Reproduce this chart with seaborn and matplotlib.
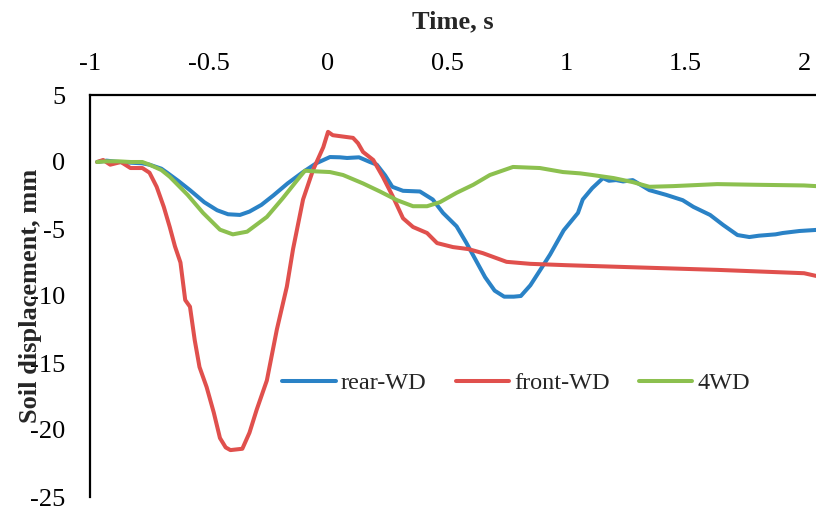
import matplotlib
matplotlib.use("Agg")
import matplotlib.pyplot as plt
import seaborn as sns
import pandas as pd

# Soil displacement traces under the passing wheels (time in s, displacement in mm)
rear_t = [-0.97, -0.93, -0.88, -0.83, -0.78, -0.75, -0.70, -0.676, -0.63, -0.58,
          -0.52, -0.466, -0.42, -0.37, -0.33, -0.28, -0.23, -0.17, -0.105, -0.05,
          0.008, 0.05, 0.08, 0.13, 0.176, 0.205, 0.24, 0.27, 0.315, 0.386,
          0.44, 0.483, 0.54, 0.58, 0.62, 0.66, 0.70, 0.74, 0.78, 0.81,
          0.85, 0.89, 0.933, 0.99, 1.05, 1.07, 1.11, 1.155, 1.18, 1.21,
          1.24, 1.28, 1.35, 1.42, 1.49, 1.535, 1.605, 1.66, 1.72, 1.77,
          1.81, 1.845, 1.88, 1.91, 1.98, 2.05]
rear_y = [0, 0.1, 0, -0.05, -0.1, -0.2, -0.5, -0.8, -1.4, -2.1,
          -3.0, -3.6, -3.9, -3.95, -3.7, -3.2, -2.5, -1.6, -0.75, -0.1,
          0.37, 0.35, 0.3, 0.35, 0.0, -0.2, -1.0, -1.85, -2.15, -2.2,
          -2.8, -3.8, -4.8, -6.0, -7.3, -8.6, -9.6, -10.05, -10.05, -10.0,
          -9.2, -8.1, -6.9, -5.1, -3.8, -2.8, -1.95, -1.2, -1.4, -1.35,
          -1.45, -1.35, -2.1, -2.45, -2.85, -3.35, -3.95, -4.7, -5.45, -5.6,
          -5.5, -5.45, -5.4, -5.3, -5.15, -5.07]

front_t = [-0.97, -0.945, -0.915, -0.87, -0.83, -0.78, -0.75, -0.72, -0.69, -0.665,
           -0.643, -0.62, -0.60, -0.58, -0.56, -0.54, -0.51, -0.48, -0.454, -0.43,
           -0.41, -0.36, -0.33, -0.30, -0.257, -0.215, -0.173, -0.147, -0.105, -0.063,
           -0.02, 0.0, 0.02, 0.105, 0.126, 0.147, 0.19, 0.23, 0.273, 0.315,
           0.357, 0.416, 0.458, 0.525, 0.59, 0.65, 0.75, 0.85, 1.0, 1.27,
           1.635, 2.0, 2.05]
front_y = [0, 0.15, -0.2, 0, -0.45, -0.45, -0.8, -1.85, -3.35, -4.85,
           -6.3, -7.5, -10.3, -10.8, -13.3, -15.3, -16.8, -18.7, -20.6, -21.3,
           -21.5, -21.4, -20.2, -18.5, -16.3, -12.5, -9.3, -6.5, -2.8, -0.6,
           1.1, 2.25, 2.0, 1.8, 1.4, 0.75, 0.15, -1.1, -2.6, -4.2,
           -4.85, -5.3, -6.05, -6.35, -6.5, -6.8, -7.45, -7.6, -7.7, -7.85,
           -8.05, -8.3, -8.5]

awd_t = [-0.97, -0.93, -0.88, -0.83, -0.78, -0.75, -0.70, -0.665, -0.59, -0.525,
         -0.454, -0.4, -0.34, -0.257, -0.19, -0.118, -0.097, -0.05, 0.008, 0.063,
         0.147, 0.218, 0.29, 0.357, 0.416, 0.47, 0.54, 0.61, 0.68, 0.777,
         0.89, 0.987, 1.06, 1.11, 1.2, 1.28, 1.35, 1.45, 1.635, 1.8,
         2.0, 2.05]
awd_y = [0, 0.05, 0.05, 0, 0, -0.2, -0.6, -1.1, -2.45, -3.8,
         -5.05, -5.4, -5.2, -4.1, -2.7, -1.1, -0.65, -0.7, -0.75, -0.97,
         -1.6, -2.2, -2.85, -3.3, -3.3, -3.0, -2.3, -1.7, -0.97, -0.37,
         -0.45, -0.75, -0.85, -0.97, -1.2, -1.5, -1.85, -1.8, -1.65, -1.7,
         -1.75, -1.8]

series_names = ["rear-WD", "front-WD", "4WD"]
series_colors = ["#2A82C6", "#E0504D", "#8CC04F"]

x_ticks = [-1, -0.5, 0, 0.5, 1, 1.5, 2]
x_ticklabels = ["-1", "-0.5", "0", "0.5", "1", "1.5", "2"]
y_ticks = [5, 0, -5, -10, -15, -20, -25]
y_ticklabels = ["5", "0", "-5", "-10", "-15", "-20", "-25"]

df = pd.concat([
    pd.DataFrame({"Time": rear_t, "Disp": rear_y, "Drive": series_names[0]}),
    pd.DataFrame({"Time": front_t, "Disp": front_y, "Drive": series_names[1]}),
    pd.DataFrame({"Time": awd_t, "Disp": awd_y, "Drive": series_names[2]}),
], ignore_index=True)

sns.set_style("white")
plt.rcParams["font.family"] = ["Liberation Serif", "DejaVu Serif"]
plt.rcParams["axes.unicode_minus"] = False

fig = plt.figure(figsize=(8.16, 5.08), dpi=100)
ax = fig.add_axes([90 / 816, 1 - 497 / 508, 1 - 90 / 816, (497 - 95) / 508])

sns.lineplot(data=df, x="Time", y="Disp", hue="Drive", hue_order=series_names,
             palette=dict(zip(series_names, series_colors)), estimator=None,
             sort=False, linewidth=2.9, legend=False, ax=ax)

ax.set_xlim(-1, 2.05)
ax.set_ylim(-25, 5)

ax.xaxis.tick_top()
ax.xaxis.set_label_position("top")
ax.set_xticks(x_ticks)
ax.set_xticklabels(x_ticklabels)
ax.set_yticks(y_ticks)
ax.set_yticklabels(y_ticklabels)
ax.tick_params(axis="x", length=0, pad=14.5, labelsize=19, colors="black")
ax.tick_params(axis="y", length=0, pad=18, labelsize=19, colors="black")

ax.set_xlabel("Time, s", fontsize=19, fontweight="bold", labelpad=18)
ax.set_ylabel("Soil displacement, mm", fontsize=19, fontweight="bold")
ax.yaxis.set_label_coords(-48 / 726, 0.5)

for side in ["bottom", "right"]:
    ax.spines[side].set_visible(False)
for side in ["top", "left"]:
    ax.spines[side].set_visible(True)
    ax.spines[side].set_color("black")
    ax.spines[side].set_linewidth(1.6)
ax.grid(False)

handles = [plt.Line2D([], [], color=c, linewidth=2.9) for c in series_colors]
ax.legend(handles, series_names, loc="center", bbox_to_anchor=(516 / 816, 1 - 383 / 508),
          bbox_transform=fig.transFigure, ncol=3, frameon=False, fontsize=17.5,
          handlelength=2.2, handletextpad=0.2, columnspacing=1.2)

fig.savefig("out.png", dpi=100)
